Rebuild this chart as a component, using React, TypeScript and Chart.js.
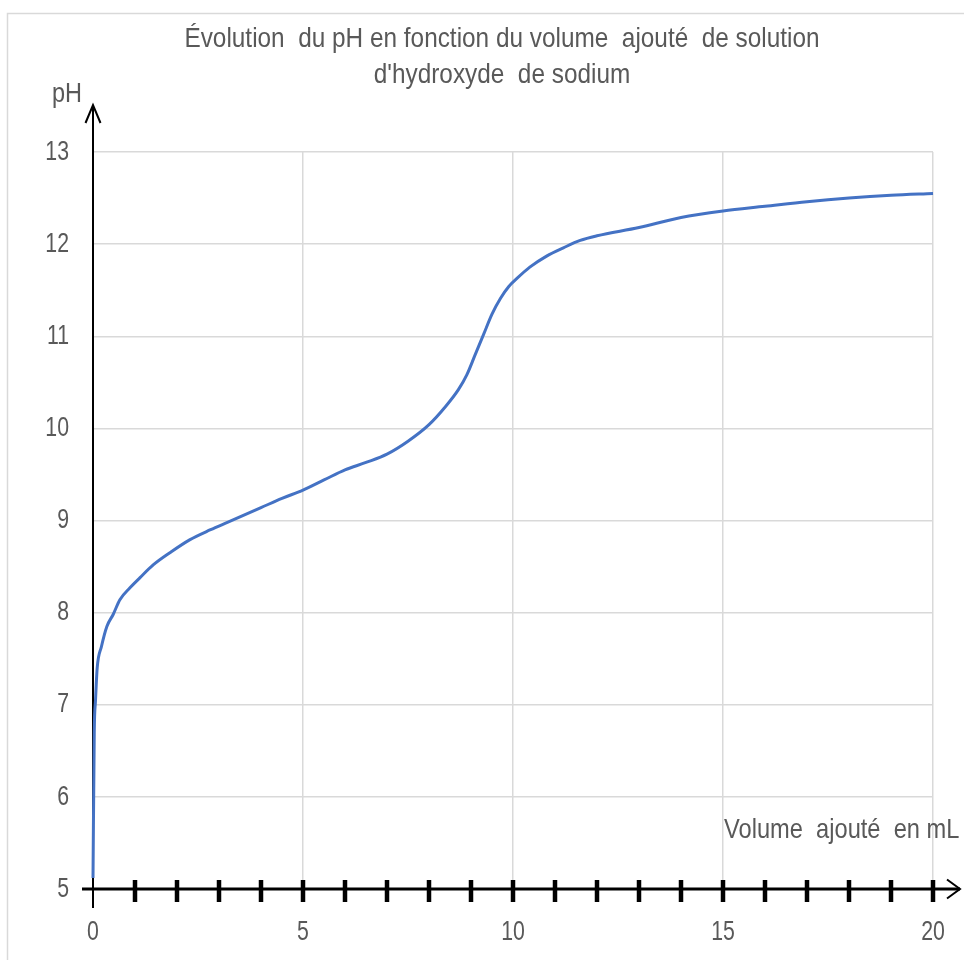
import React, { useEffect, useRef } from "react";
import { Chart, registerables } from "chart.js";

Chart.register(...registerables);

const volumes = [0, 0.03, 0.06, 0.1, 0.2, 0.33, 0.48, 0.64, 0.88, 1.12, 1.44, 1.83, 2.3, 2.8, 3.2, 4.0, 4.5, 5.0, 5.5, 6.0, 6.5, 7.0, 7.5, 8.0, 8.4, 8.7, 8.9, 9.1, 9.3, 9.5, 9.7, 9.9, 10.1, 10.4, 10.8, 11.2, 11.6, 12.0, 13.0, 14.0, 15.0, 16.0, 17.0, 18.0, 19.0, 20.0];
const phValues = [5.12, 6.7, 7.05, 7.4, 7.63, 7.85, 7.98, 8.14, 8.27, 8.38, 8.52, 8.65, 8.79, 8.9, 8.98, 9.14, 9.24, 9.33, 9.44, 9.55, 9.63, 9.72, 9.86, 10.04, 10.24, 10.42, 10.58, 10.8, 11.02, 11.24, 11.41, 11.54, 11.63, 11.75, 11.87, 11.96, 12.04, 12.09, 12.18, 12.29, 12.36, 12.41, 12.46, 12.5, 12.53, 12.55];
const titleLines = ["Évolution  du pH en fonction du volume  ajouté  de solution", "d'hydroxyde  de sodium"];
const yAxisLabel = "pH";
const xAxisLabel = "Volume  ajouté  en mL";
const xMin = 0, xMax = 20, xStep = 5;
const yMin = 5, yMax = 13, yStep = 1;

const FONT = "'Liberation Sans', Arial, sans-serif";
const GREY = "#595959";

function drawText(ctx: CanvasRenderingContext2D, text: string, x: number, y: number, size: number, align: CanvasTextAlign, sx: number, baseline: CanvasTextBaseline = "alphabetic") {
  ctx.save();
  ctx.translate(x, y);
  ctx.scale(sx, 1);
  ctx.font = `${size}px ${FONT}`;
  ctx.textAlign = align;
  ctx.textBaseline = baseline;
  ctx.fillStyle = GREY;
  ctx.fillText(text, 0, 0);
  ctx.restore();
}

const overlay = {
  id: "overlay",
  beforeDatasetsDraw(chart: any) {
    const ctx = chart.ctx;
    const xs = chart.scales.x, ys = chart.scales.y;
    const x0 = xs.getPixelForValue(xMin);
    const yb = ys.getPixelForValue(yMin);
    ctx.save();
    ctx.strokeStyle = "#000";
    ctx.lineCap = "butt";
    // y axis
    ctx.lineWidth = 2;
    const yTop = ys.top - 47;
    ctx.beginPath();
    ctx.moveTo(x0, yb + 19);
    ctx.lineTo(x0, yTop);
    ctx.stroke();
    ctx.beginPath();
    ctx.moveTo(x0 - 7.5, yTop + 18);
    ctx.lineTo(x0, yTop);
    ctx.lineTo(x0 + 7.5, yTop + 18);
    ctx.stroke();
    // x axis
    const xEnd = xs.right + 27;
    ctx.lineWidth = 2.8;
    ctx.beginPath();
    ctx.moveTo(x0 - 11, yb);
    ctx.lineTo(xEnd, yb);
    ctx.stroke();
    ctx.lineWidth = 2;
    ctx.beginPath();
    ctx.moveTo(xEnd - 13, yb - 9.5);
    ctx.lineTo(xEnd, yb);
    ctx.lineTo(xEnd - 13, yb + 9.5);
    ctx.stroke();
    // tick marks every 1 mL
    ctx.lineWidth = 4.5;
    for (let v = xMin + 1; v <= xMax; v++) {
      const px = xs.getPixelForValue(v);
      ctx.beginPath();
      ctx.moveTo(px, yb - 9);
      ctx.lineTo(px, yb + 13);
      ctx.stroke();
    }
    ctx.restore();
  },
  afterDraw(chart: any) {
    const ctx = chart.ctx;
    const xs = chart.scales.x, ys = chart.scales.y;
    ctx.save();
    // outer border
    ctx.strokeStyle = "#d9d9d9";
    ctx.lineWidth = 1.5;
    ctx.strokeRect(7.5, 13.5, 1100, 1100);
    ctx.restore();
    // tick labels from the scales
    for (const t of ys.ticks) {
      drawText(ctx, String(t.value), xs.left - 24, ys.getPixelForValue(t.value), 28, "right", 0.76, "middle");
    }
    for (const t of xs.ticks) {
      drawText(ctx, String(t.value), xs.getPixelForValue(t.value), ys.bottom + 43, 28, "center", 0.76, "middle");
    }
    drawText(ctx, titleLines[0], 502, 47, 28, "center", 0.87);
    drawText(ctx, titleLines[1], 502, 83, 28, "center", 0.87);
    drawText(ctx, yAxisLabel, 52, 102, 27, "left", 0.87);
    drawText(ctx, xAxisLabel, 724, 838, 28, "left", 0.845);
  },
};

export default function App() {
  const ref = useRef<HTMLCanvasElement>(null);
  useEffect(() => {
    if (!ref.current) return;
    const chart = new Chart(ref.current, {
      type: "line",
      data: {
        datasets: [
          {
            data: volumes.map((v, i) => ({ x: v, y: phValues[i] })),
            borderColor: "#4472C4",
            borderWidth: 3,
            pointRadius: 0,
            fill: false,
            cubicInterpolationMode: "monotone",
            clip: 6,
          } as any,
        ],
      },
      options: {
        animation: false,
        responsive: false,
        devicePixelRatio: 1,
        layout: { padding: { top: 152, right: 31, left: 0, bottom: 0 } },
        plugins: { legend: { display: false }, tooltip: { enabled: false }, title: { display: false } },
        scales: {
          x: {
            type: "linear",
            min: xMin,
            max: xMax,
            afterFit: (s: any) => { s.height = 71; },
            ticks: { stepSize: xStep, display: false, autoSkip: false },
            grid: { color: "#d9d9d9", lineWidth: 1.5, drawTicks: false },
            border: { display: false },
          },
          y: {
            type: "linear",
            min: yMin,
            max: yMax,
            afterFit: (s: any) => { s.width = 93; },
            ticks: { stepSize: yStep, display: false },
            grid: { color: "#d9d9d9", lineWidth: 1.5, drawTicks: false },
            border: { display: false },
          },
        },
      },
      plugins: [overlay],
    });
    return () => chart.destroy();
  }, []);
  return (
    <div style={{ position: "fixed", left: 0, top: 0, width: 964, height: 960, background: "#fff" }}>
      <canvas ref={ref} width={964} height={960} />
    </div>
  );
}
